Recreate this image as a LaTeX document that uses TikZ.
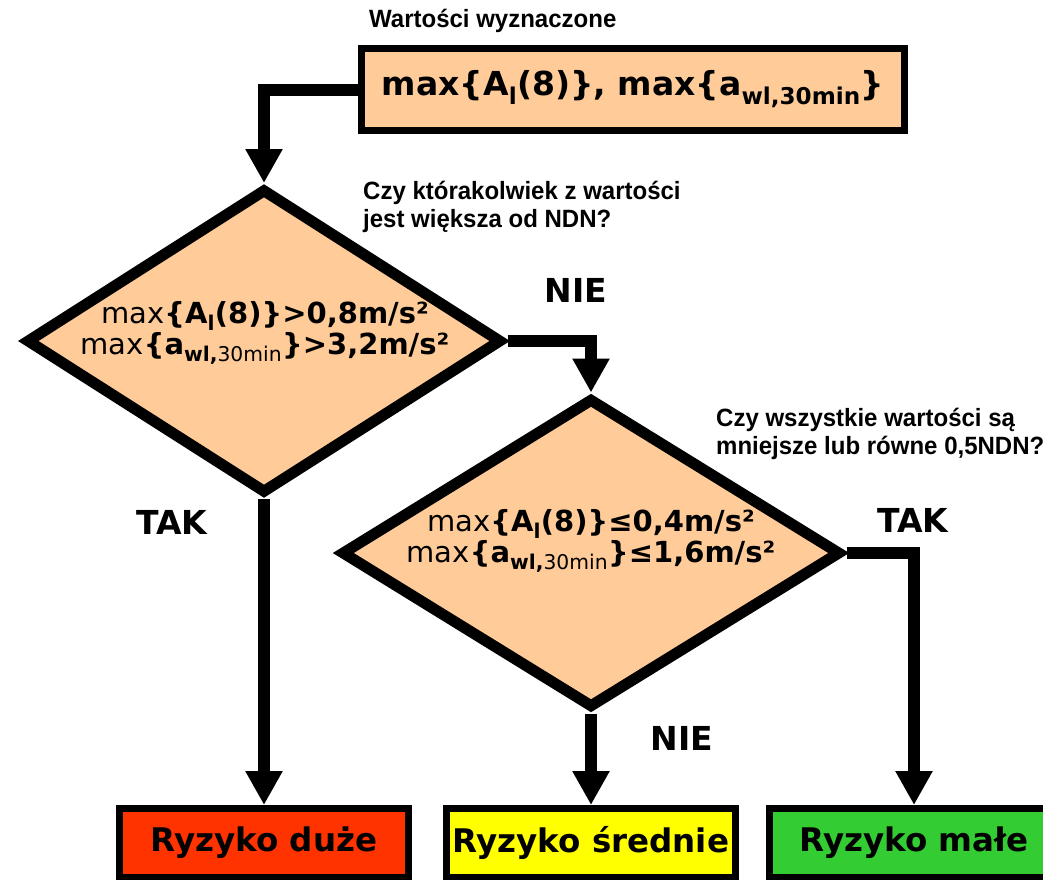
\documentclass[tikz,border=0pt]{standalone}
\usepackage{fontspec}
\setmainfont{DejaVu Sans}
\newfontfamily\askfont[FakeStretch=0.96]{Liberation Sans}
\usetikzlibrary{shapes.geometric,arrows.meta}
\definecolor{peach}{HTML}{FFCC99}
\definecolor{riskhigh}{HTML}{FF3300}
\definecolor{riskmid}{HTML}{FFFF00}
\definecolor{risklow}{HTML}{33CC33}

\begin{document}
\begin{tikzpicture}[x=1pt,y=-1pt,
  flow/.style={line width=12pt,-{Triangle[width=35pt,length=34pt]}},
  decide/.style={diamond,draw,line width=11pt,fill=peach,inner sep=0pt},
  cond/.style={align=center,inner sep=0pt,font=\fontsize{29}{31}\selectfont},
  risk/.style={draw,line width=7pt,minimum width=289pt,minimum height=69pt,inner sep=0pt,
    font=\fontsize{32.5}{36}\selectfont\bfseries},
  ask/.style={anchor=north west,inner sep=0pt,align=left,
    font=\askfont\fontsize{25}{28}\selectfont\bfseries},
  answer/.style={inner sep=0pt,font=\fontsize{33}{36}\selectfont\bfseries}]
\useasboundingbox (0,0) rectangle (1043,879);
\node[anchor=base west,inner sep=0pt,font=\askfont\fontsize{25}{28}\selectfont\bfseries]
  (title) at (369,27) {Wartości wyznaczone};
\node[draw,line width=7pt,fill=peach,minimum width=543pt,minimum height=82pt,inner sep=0pt,
  font=\fontsize{33}{36}\selectfont\bfseries] (top) at (633,89.5)
  {max\{A\textsubscript{l}(8)\}, max\{a\textsubscript{wl,30min}\}};
\node[decide,minimum width=476pt,minimum height=305pt] (d1) at (264,341) {};
\node[cond] (c1) at (265,333)
  {max\textbf{\{A\textsubscript{l}(8)\}>0,8m/s²}\\
   max\textbf{\{a\textsubscript{wl,\mdseries 30min}\}>3,2m/s²}};
\node[decide,minimum width=500pt,minimum height=310pt] (d2) at (591,553) {};
\node[cond] (c2) at (591,541)
  {max\textbf{\{A\textsubscript{l}(8)\}≤0,4m/s²}\\
   max\textbf{\{a\textsubscript{wl,\mdseries 30min}\}≤1,6m/s²}};
\node[ask] (ask1) at (363,181) {Czy którakolwiek z wartości\\jest większa od NDN?};
\node[ask] (ask2) at (716,408) {Czy wszystkie wartości są\\mniejsze lub równe 0,5NDN?};
\node[answer] (no1) at (576,290) {NIE};
\node[answer] (yes1) at (172,522) {TAK};
\node[answer] (yes2) at (913,520) {TAK};
\node[answer] (no2) at (682,738) {NIE};
\node[risk,fill=riskhigh] (r1) at (264,843) {Ryzyko duże};
\node[risk,fill=riskmid] (r2) at (591,843) {Ryzyko średnie};
\node[risk,fill=risklow] (r3) at (914,843) {Ryzyko małe};
\draw[flow] (top.west) -| (d1.north);
\draw[flow] (d1.east) -| (d2.north);
\draw[flow] (d2.east) -| (r3.north);
\draw[flow] (d1.south) -- (r1.north);
\draw[flow] (d2.south) -- (r2.north);
\end{tikzpicture}
\end{document}
